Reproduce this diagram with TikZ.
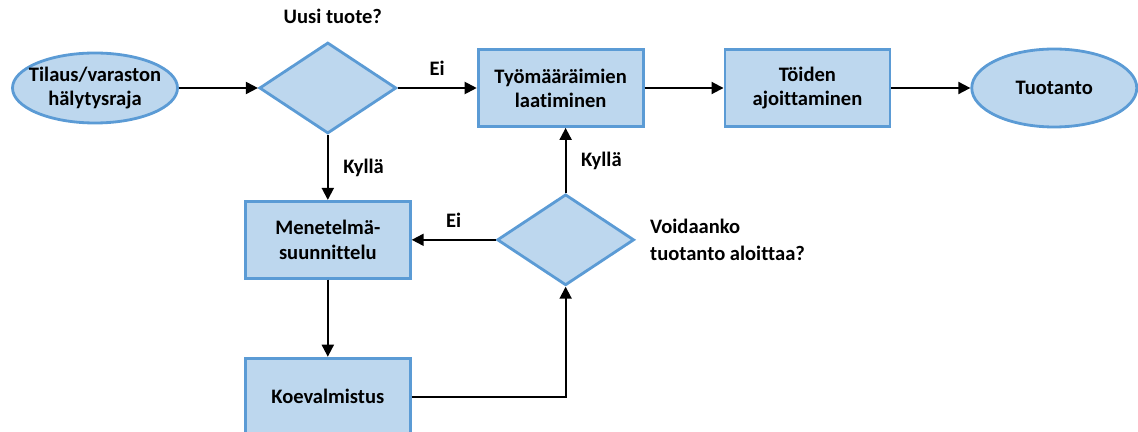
\documentclass[tikz,border=0pt]{standalone}
\usepackage{fontspec}
\setmainfont[Ligatures=NoCommon]{Carlito}
\usepackage{tikz}
\usetikzlibrary{shapes.geometric, arrows.meta, positioning, calc}
\definecolor{cReuna}{RGB}{91,155,213}
\definecolor{cTayte}{RGB}{189,215,238}
\tikzset{
	paate/.style  ={ellipse, minimum width=3.3cm, minimum height=1.4cm, inner xsep=-0.2cm, inner ysep=0pt, align=center, draw=cReuna, line width=1.6pt, fill=cTayte},
	vaihe/.style  ={rectangle, minimum width=3.3cm, minimum height=1.54cm, align=center, draw=cReuna, line width=1.6pt, fill=cTayte},
	valinta/.style={diamond, minimum width=2.74cm, minimum height=1.82cm, inner sep=0pt, draw=cReuna, line width=1.6pt, fill=cTayte},
	nuoli/.style  ={-{Triangle[length=2.4mm, width=2.4mm]}, line width=1.1pt},
	% tekstit kuvan ulkopuolella
	selite/.style ={align=left, inner sep=1pt, font=\bfseries\fontsize{11.7}{15.4}\selectfont},
}
\begin{document}
\begin{tikzpicture}[every node/.style={font=\bfseries\fontsize{11.7}{13.8}\selectfont}, node distance=1.58cm]
	\useasboundingbox (0,0) rectangle (22.76,-8.64);
	\node[paate] (tilaus) at (1.90,-1.76) {Tilaus/varaston\\ hälytysraja};
	\node[valinta, right=of tilaus] (uusi) {};
	\node[vaihe, right=of uusi] (tyo) {Työmääräimien\\ laatiminen};
	\node[vaihe, right=of tyo] (ajoitus) {Töiden\\ ajoittaminen};
	\node[paate, minimum height=1.56cm, right=of ajoitus] (tuotanto) {Tuotanto};
	\node[vaihe, below=1.3cm of uusi] (menetelma) {Menetelmä-\\ suunnittelu};
	\node[vaihe, below=1.54cm of menetelma] (koe) {Koevalmistus};
	\node[valinta, right=1.68cm of menetelma] (voi) {};
	\node[selite, above=0.3cm of uusi, xshift=0.1cm] (uusiteksti) {Uusi tuote?};
	\node[selite, right=0.25cm of voi] (voiteksti) {Voidaanko\\ tuotanto aloittaa?};
	\draw[nuoli] (tilaus) -- (uusi);
	\draw[nuoli] (uusi) -- node[above=3pt] {Ei} (tyo);
	\draw[nuoli] (tyo) -- (ajoitus);
	\draw[nuoli] (ajoitus) -- (tuotanto);
	\draw[nuoli] (uusi) -- node[right=5pt] {Kyllä} (menetelma);
	\draw[nuoli] (menetelma) -- (koe);
	\draw[nuoli] (koe.east) -| (voi.south);
	\draw[nuoli] (voi) -- node[above=3pt] {Ei} (menetelma);
	\draw[nuoli] (voi.north) -- node[right=5pt] {Kyllä} (voi.north |- tyo.south);
\end{tikzpicture}
\end{document}
